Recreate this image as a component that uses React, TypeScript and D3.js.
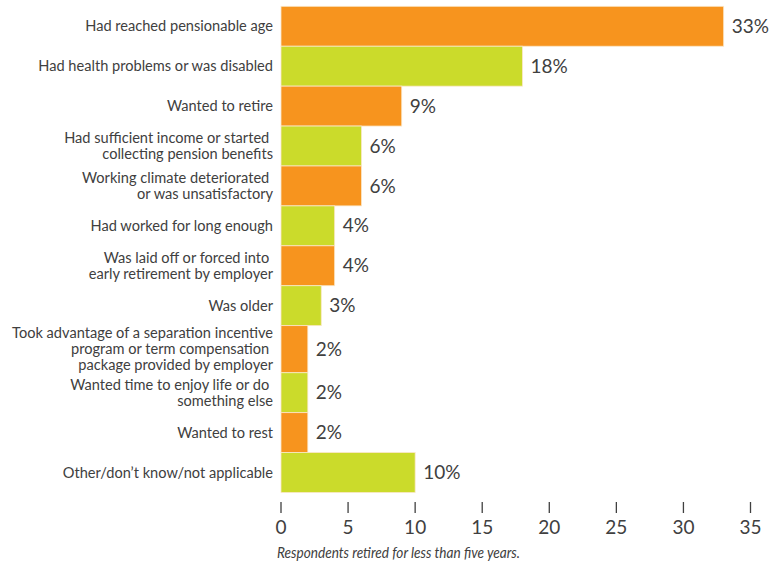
import React from "react";
import * as d3 from "d3";

const categories: string[][] = [
  ["Had reached pensionable age"],
  ["Had health problems or was disabled"],
  ["Wanted to retire"],
  ["Had sufficient income or started ", "collecting pension benefits"],
  ["Working climate deteriorated ", "or was unsatisfactory"],
  ["Had worked for long enough"],
  ["Was laid off or forced into ", "early retirement by employer"],
  ["Was older"],
  ["Took advantage of a separation incentive", "program or term compensation ", "package provided by employer"],
  ["Wanted time to enjoy life or do ", "something else"],
  ["Wanted to rest"],
  ["Other/don\u2019t know/not applicable"],
];
const values: number[] = [33, 18, 9, 6, 6, 4, 4, 3, 2, 2, 2, 10];
const ticks: number[] = [0, 5, 10, 15, 20, 25, 30, 35];
const caption = "Respondents retired for less than five years.";

const ORANGE = "#F7941E";
const GREEN = "#CBDB2B";
const TEXT = "#404040";
const FONT = "Lato, 'Open Sans', sans-serif";

export default function App() {
  const W = 782, H = 565;
  const x = d3.scaleLinear().domain([0, 35]).range([281, 750.5]);
  const units = categories.map((c) => (c.length > 2 ? 1.18 : 1));
  const cum = [0, ...d3.cumsum(units)];
  const y = d3.scaleLinear().domain([0, cum[cum.length - 1]]).range([6.3, 492.5]);
  const lh = 16;

  return (
    <svg width={W} height={H} style={{ position: "absolute", left: 0, top: 0 }} fontFamily={FONT}>
      <rect width={W} height={H} fill="#fff" />
      {values.map((v, i) => {
        const y0 = y(cum[i]);
        const y1 = y(cum[i + 1]);
        const cy = (y0 + y1) / 2;
        const lines = categories[i];
        return (
          <g key={i}>
            <rect
              x={x(0)}
              y={y0}
              width={x(v) - x(0)}
              height={y1 - y0}
              fill={i % 2 === 0 ? ORANGE : GREEN}
              stroke="#fbe7c8"
              strokeWidth={0.8}
            />
            <text x={x(v) + 8} y={cy} dy="0.35em" fontSize={19} fill={TEXT}>
              {v}%
            </text>
            {lines.map((l, j) => (
              <text
                key={j}
                x={273}
                y={cy + (j - (lines.length - 1) / 2) * lh}
                dy="0.35em"
                textAnchor="end"
                fontSize={14.6}
                fill={TEXT}
                style={{ whiteSpace: "pre" }}
              >
                {l}
              </text>
            ))}
          </g>
        );
      })}
      {ticks.map((t) => (
        <g key={t}>
          <line x1={x(t)} x2={x(t)} y1={502} y2={513} stroke={TEXT} strokeWidth={1.3} />
          <text x={x(t)} y={534} textAnchor="middle" fontSize={19} fill={TEXT}>
            {t}
          </text>
        </g>
      ))}
      <text
        x={277}
        y={558}
        fontSize={15}
        fontStyle="italic"
        fill={TEXT}
        textLength={243}
        lengthAdjust="spacingAndGlyphs"
      >
        {caption}
      </text>
    </svg>
  );
}
